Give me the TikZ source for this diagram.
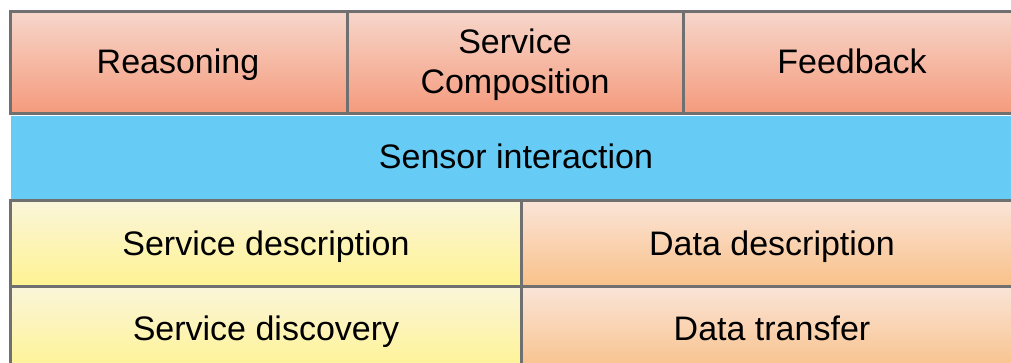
\documentclass[tikz,border=0pt]{standalone}
\usepackage{fontspec}
\setmainfont{Liberation Sans}
\definecolor{redtop}{HTML}{F6D6CA}
\definecolor{redbot}{HTML}{F59A7C}
\definecolor{bluefill}{HTML}{66CCF5}
\definecolor{yeltop}{HTML}{FAF5DA}
\definecolor{yelbot}{HTML}{FFF392}
\definecolor{orgtop}{HTML}{FAE4D8}
\definecolor{orgbot}{HTML}{F9C189}
\definecolor{edge}{HTML}{707070}
\begin{document}
\begin{tikzpicture}[x=1pt,y=-1pt,
  cell/.style={draw=edge,line width=3pt},
  redcell/.style={cell,top color=redtop,bottom color=redbot},
  yelcell/.style={cell,top color=yeltop,bottom color=yelbot},
  orgcell/.style={cell,top color=orgtop,bottom color=orgbot},
  lbl/.style={font=\fontsize{34}{40}\selectfont,align=center,anchor=base,inner sep=0pt}]
\useasboundingbox (0,0) rectangle (1011,363);
\begin{scope}
\clip (0,0) rectangle (1011,363);
% top row
\draw[redcell] (10,12) rectangle (347,114);
\draw[redcell] (347,12) rectangle (683,114);
\draw[redcell] (683,12) rectangle (1030,114);
% blue band
\fill[bluefill] (11,116) rectangle (1030,199);
% lower rows
\draw[yelcell] (10,201) rectangle (521,286);
\draw[orgcell] (521,201) rectangle (1030,286);
\draw[yelcell] (10,286) rectangle (521,372);
\draw[orgcell] (521,286) rectangle (1030,372);
\end{scope}
\node[lbl] (reason) at (178,74) {Reasoning};
\node[lbl] (comp) at (515,94) {Service\\Composition};
\node[lbl] (feed) at (852,74) {Feedback};
\node[lbl] (sensor) at (516,169) {Sensor interaction};
\node[lbl] (sdesc) at (266,255) {Service description};
\node[lbl] (ddesc) at (772,255) {Data description};
\node[lbl] (sdisc) at (266,340) {Service discovery};
\node[lbl] (dtrans) at (772,340) {Data transfer};
\end{tikzpicture}
\end{document}
